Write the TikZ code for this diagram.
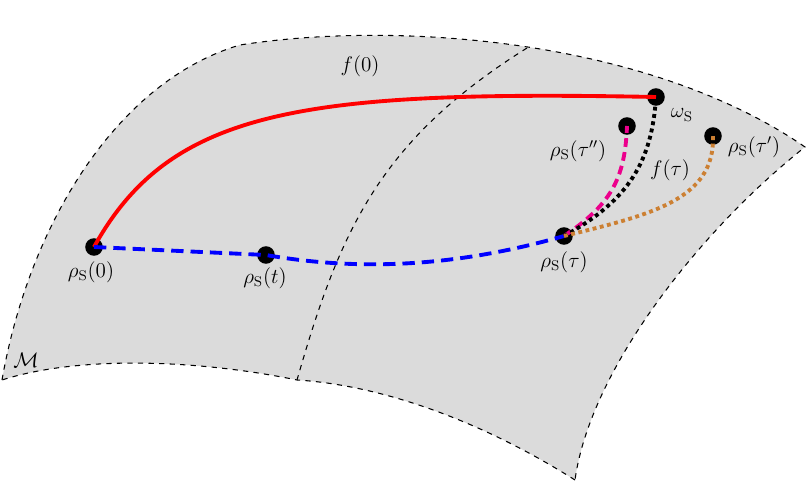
\documentclass[tikz,border=0pt]{standalone}
\begin{document}
\begin{tikzpicture}[x=0.02cm,y=-0.02cm,
  dot/.style={circle,fill=black,inner sep=0pt,minimum size=10pt},
  lbl/.style={font=\large},
  edge/.style={dashed,line width=0.6pt}]
\useasboundingbox (0,0) rectangle (808,483);
\fill[gray!28] (2,380) .. controls (30,220) and (120,80) .. (240,45)
  .. controls (400,20) and (650,40) .. (805,147)
  .. controls (700,230) and (590,370) .. (575,480)
  .. controls (480,420) and (380,385) .. (297,380)
  .. controls (200,360) and (80,355) .. (2,380) -- cycle;
\draw[edge] (2,380) .. controls (30,220) and (120,80) .. (240,45)
  .. controls (400,20) and (650,40) .. (805,147)
  .. controls (700,230) and (590,370) .. (575,480);
\draw[edge] (575,480) .. controls (480,420) and (380,385) .. (297,380)
  .. controls (200,360) and (80,355) .. (2,380);
\draw[edge] (527,48) .. controls (380,140) and (340,230) .. (297,380);
\node[dot] (r0) at (94,247) {};
\node[dot] (rt) at (266,255) {};
\node[dot] (rtau) at (564,236) {};
\node[dot] (w) at (656,97) {};
\node[dot] (rpp) at (627,126) {};
\node[dot] (rp) at (713,136) {};
\draw[red,line width=2.2pt] (r0.center) .. controls (170,110) and (300,90) .. (w.center);
\draw[blue,dashed,line width=2.2pt,dash pattern=on 7pt off 4pt] (r0.center) -- (rt.center)
  .. controls (380,275) and (480,260) .. (rtau.center);
\draw[magenta,line width=2.2pt,dash pattern=on 5pt off 3pt] (rtau.center) .. controls (610,205) and (625,180) .. (rpp.center);
\draw[black,line width=2.2pt,dotted] (rtau.center) .. controls (630,200) and (652,160) .. (w.center);
\draw[brown!80!orange,line width=2.2pt,dotted] (rtau.center) .. controls (650,215) and (715,200) .. (rp.center);
\node[lbl] at (360,66) {$f(0)$};
\node[lbl] at (91,272) {$\rho_{\mathrm{S}}(0)$};
\node[lbl] at (265,278) {$\rho_{\mathrm{S}}(t)$};
\node[lbl] at (564,262) {$\rho_{\mathrm{S}}(\tau)$};
\node[lbl] at (682,115) {$\omega_{\mathrm{S}}$};
\node[lbl] at (578,151) {$\rho_{\mathrm{S}}(\tau'')$};
\node[lbl] at (754,147) {$\rho_{\mathrm{S}}(\tau')$};
\node[lbl] at (670,170) {$f(\tau)$};
\node[lbl] at (26,360) {$\mathcal{M}$};
\end{tikzpicture}
\end{document}
